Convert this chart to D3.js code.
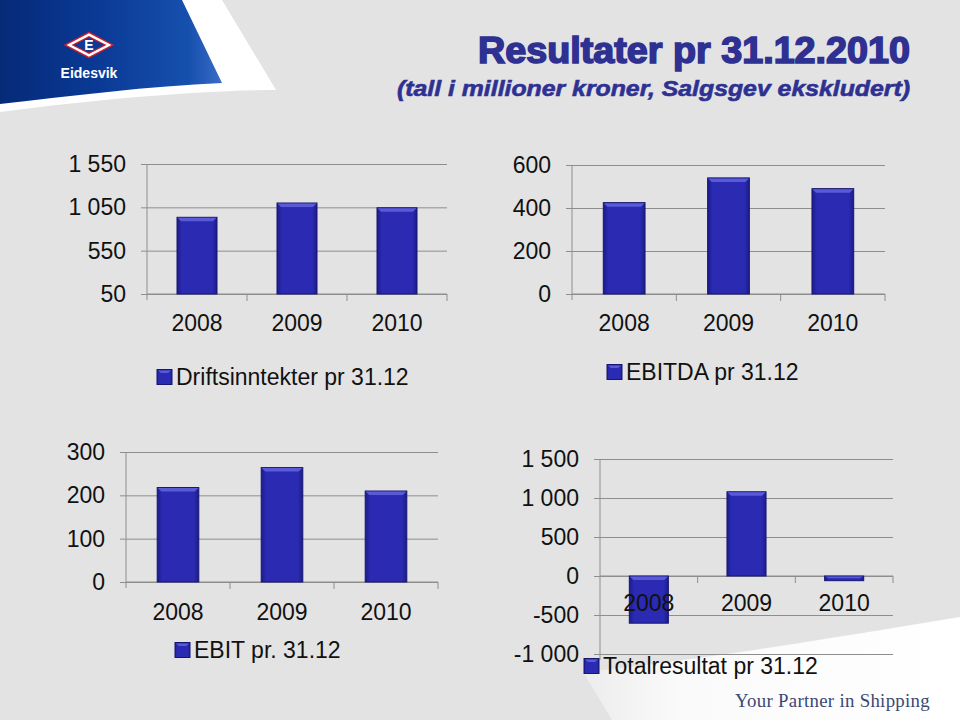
<!DOCTYPE html>
<html>
<head>
<meta charset="utf-8">
<script src="https://cdn.jsdelivr.net/npm/d3@7"></script>
<style>
  html, body { margin: 0; padding: 0; background: #e3e3e3; }
  svg { display: block; font-family: "Liberation Sans", Arial, sans-serif; }
</style>
</head>
<body>
<svg id="chart" width="960" height="720"></svg>
<script>
// ---------------- DATA ----------------
const years = ["2008", "2009", "2010"];
const driftsinntekter = [935, 1100, 1045];
const ebitda = [425, 540, 490];
const ebit = [218, 264, 210];
const totalresultat = [-605, 1080, -60];

const ticksDrift = [50, 550, 1050, 1550];
const ticksEbitda = [0, 200, 400, 600];
const ticksEbit = [0, 100, 200, 300];
const ticksTotal = [-1000, -500, 0, 500, 1000, 1500];

const legendDrift = "Driftsinntekter pr 31.12";
const legendEbitda = "EBITDA pr 31.12";
const legendEbit = "EBIT pr. 31.12";
const legendTotal = "Totalresultat pr 31.12";

const titleText = "Resultater pr 31.12.2010";
const subtitleText = "(tall i millioner kroner, Salgsgev ekskludert)";
const taglineText = "Your Partner in Shipping";
const logoText = "Eidesvik";

// ---------------- SETUP ----------------
const svg = d3.select("#chart");
const defs = svg.append("defs");
const locale = d3.formatLocale({ decimal: ",", thousands: "\u00a0", grouping: [3], currency: ["", " kr"], minus: "-" });
const fmt = locale.format(",d");
const SANS = "'Liberation Sans', Arial, sans-serif";
const SERIF = "'Liberation Serif', 'DejaVu Serif', serif";

// gradients
const bg = defs.append("linearGradient").attr("id", "barGrad").attr("x1", 0).attr("x2", 1).attr("y1", 0).attr("y2", 0);
bg.append("stop").attr("offset", "0%").attr("stop-color", "#1c1c8c");
bg.append("stop").attr("offset", "12%").attr("stop-color", "#2a2ab2");
bg.append("stop").attr("offset", "88%").attr("stop-color", "#2a2ab2");
bg.append("stop").attr("offset", "100%").attr("stop-color", "#1c1c8c");

const lg = defs.append("linearGradient").attr("id", "logoGrad").attr("x1", 0).attr("x2", 1).attr("y1", 0).attr("y2", 0);
lg.append("stop").attr("offset", "0%").attr("stop-color", "#052a78");
lg.append("stop").attr("offset", "45%").attr("stop-color", "#0a3a96");
lg.append("stop").attr("offset", "85%").attr("stop-color", "#1650ad");
lg.append("stop").attr("offset", "100%").attr("stop-color", "#3a6cc8");

const wg = defs.append("linearGradient").attr("id", "whiteGrad").attr("x1", 0).attr("x2", 1).attr("y1", 0).attr("y2", 0);
wg.append("stop").attr("offset", "0%").attr("stop-color", "#ececec");
wg.append("stop").attr("offset", "25%").attr("stop-color", "#fafafa");
wg.append("stop").attr("offset", "100%").attr("stop-color", "#ffffff");

// ---------------- DECORATION ----------------
svg.append("path")
  .attr("d", "M0,0 L222,0 L276,90 C200,90 90,100 0,112 Z")
  .attr("fill", "#ffffff");
svg.append("path")
  .attr("d", "M0,0 L182,0 L222,83 C150,86 70,96 0,104 Z")
  .attr("fill", "url(#logoGrad)");

// diamond logo
const lx = 89, ly = 45;
function diamond(hw, hh) { return `M${lx - hw},${ly} L${lx},${ly - hh} L${lx + hw},${ly} L${lx},${ly + hh} Z`; }
svg.append("path").attr("d", diamond(25.5, 13.5)).attr("fill", "#c4202e");
svg.append("path").attr("d", diamond(22.5, 11.7)).attr("fill", "#ffffff");
svg.append("path").attr("d", diamond(17.5, 9)).attr("fill", "#c4202e");
svg.append("path").attr("d", diamond(15, 7.6)).attr("fill", "#0d3a94");
svg.append("text").attr("x", lx).attr("y", ly + 5).attr("text-anchor", "middle")
  .style("font-family", SANS).style("font-size", "14px").style("font-weight", "bold")
  .attr("fill", "#ffffff").text("E");
svg.append("text").attr("x", lx).attr("y", 78).attr("text-anchor", "middle")
  .style("font-family", SANS).style("font-size", "14px").style("font-weight", "bold")
  .attr("fill", "#ffffff").text(logoText);

// bottom-right white wedge
svg.append("path")
  .attr("d", "M960,617 C820,640 700,660 583,672 L612,720 L960,720 Z")
  .attr("fill", "url(#whiteGrad)");
svg.append("text")
  .attr("x", 930).attr("y", 707).attr("text-anchor", "end")
  .attr("textLength", 195).attr("lengthAdjust", "spacingAndGlyphs")
  .style("font-family", SERIF).style("font-size", "19px").style("letter-spacing", "0.3px")
  .attr("fill", "#3b4876")
  .text(taglineText);

// titles
svg.append("text")
  .attr("x", 910).attr("y", 63).attr("text-anchor", "end")
  .attr("textLength", 432).attr("lengthAdjust", "spacingAndGlyphs")
  .style("font-family", SANS).style("font-size", "36px").style("font-weight", "bold")
  .attr("fill", "#2e3192").attr("stroke", "#2e3192").attr("stroke-width", 1.6)
  .text(titleText);
svg.append("text")
  .attr("x", 910).attr("y", 96).attr("text-anchor", "end")
  .attr("textLength", 513).attr("lengthAdjust", "spacingAndGlyphs")
  .style("font-family", SANS).style("font-size", "22px").style("font-weight", "bold").style("font-style", "italic")
  .attr("fill", "#2e3192").attr("stroke", "#2e3192").attr("stroke-width", 0.6)
  .text(subtitleText);

// ---------------- CHART PANELS ----------------
const panels = [
  { values: driftsinntekter, ticks: ticksDrift, legend: legendDrift,
    left: 147, right: 447, top: 164, bottom: 294, base: 50, labelOffset: 29, legendX: 157, legendY: 377 },
  { values: ebitda, ticks: ticksEbitda, legend: legendEbitda,
    left: 572, right: 885, top: 165, bottom: 294, base: 0, labelOffset: 29, legendX: 607, legendY: 372 },
  { values: ebit, ticks: ticksEbit, legend: legendEbit,
    left: 126, right: 438, top: 452, bottom: 582, base: 0, labelOffset: 30, legendX: 175, legendY: 650 },
  { values: totalresultat, ticks: ticksTotal, legend: legendTotal,
    left: 600, right: 893, top: 459, bottom: 654, base: 0, labelOffset: 27, legendX: 584, legendY: 666 }
];

const gridColor = "#8e8e8e";
const textColor = "#111111";
const fontSize = "23px";

panels.forEach(p => {
  const g = svg.append("g");
  const y = d3.scaleLinear().domain(d3.extent(p.ticks)).range([p.bottom, p.top]);
  const x = d3.scaleBand().domain(years).range([p.left, p.right]).paddingInner(0).paddingOuter(0);
  const w = p.right - p.left;

  const yAxis = g.append("g")
    .attr("transform", `translate(${p.left - 6},0)`)
    .call(d3.axisLeft(y).tickValues(p.ticks).tickSize(-(w + 6)).tickPadding(15).tickFormat(fmt));
  yAxis.select(".domain").remove();
  yAxis.selectAll(".tick line").attr("stroke", gridColor).attr("stroke-width", 1);
  yAxis.selectAll(".tick text").style("font-size", fontSize).style("font-family", SANS).attr("fill", textColor);

  g.append("line")
    .attr("x1", p.left).attr("x2", p.left)
    .attr("y1", p.top).attr("y2", p.bottom + 6)
    .attr("stroke", gridColor);

  const zeroY = y(p.base);
  const bounds = years.map(d => x(d)).concat([p.right]).slice(1);
  g.selectAll("line.xtick").data(bounds).join("line")
    .attr("class", "xtick")
    .attr("x1", d => d).attr("x2", d => d)
    .attr("y1", zeroY).attr("y2", zeroY + 7)
    .attr("stroke", gridColor);
  g.append("line").attr("x1", p.left).attr("x2", p.right)
    .attr("y1", zeroY).attr("y2", zeroY).attr("stroke", gridColor);

  const bw = x.bandwidth() * 0.4;
  const bars = g.selectAll("g.bar").data(p.values).join("g").attr("class", "bar");
  bars.append("rect")
    .attr("x", (d, i) => x(years[i]) + (x.bandwidth() - bw) / 2)
    .attr("y", d => Math.min(y(d), zeroY))
    .attr("width", bw)
    .attr("height", d => Math.abs(y(d) - zeroY))
    .attr("fill", "url(#barGrad)")
    .attr("stroke", "#16166e").attr("stroke-width", 1);
  bars.append("path")
    .attr("d", (d, i) => {
      const x0 = x(years[i]) + (x.bandwidth() - bw) / 2;
      const yt = Math.min(y(d), zeroY);
      const h = Math.min(4, Math.abs(y(d) - zeroY) / 2);
      return `M${x0 + 0.5},${yt + 0.5} L${x0 + bw - 0.5},${yt + 0.5} L${x0 + bw - 4},${yt + h} L${x0 + 4},${yt + h} Z`;
    })
    .attr("fill", "#5a5ad8");

  g.selectAll("text.xlab").data(years).join("text")
    .attr("class", "xlab")
    .attr("x", d => x(d) + x.bandwidth() / 2)
    .attr("y", zeroY + p.labelOffset)
    .attr("dy", "0.35em")
    .attr("text-anchor", "middle")
    .style("font-size", fontSize).style("font-family", SANS).attr("fill", textColor)
    .text(d => d);

  const lgG = g.append("g").attr("transform", `translate(${p.legendX},${p.legendY})`);
  lgG.append("rect").attr("x", 0).attr("y", -7.5).attr("width", 15).attr("height", 15)
    .attr("fill", "url(#barGrad)").attr("stroke", "#16166e");
  lgG.append("path").attr("d", "M1,-6.5 L14,-6.5 L11,-4 L4,-4 Z").attr("fill", "#5a5ad8");
  lgG.append("text").attr("x", 19).attr("y", 0).attr("dy", "0.35em")
    .style("font-size", fontSize).style("font-family", SANS).attr("fill", textColor).text(p.legend);
});
</script>
</body>
</html>
